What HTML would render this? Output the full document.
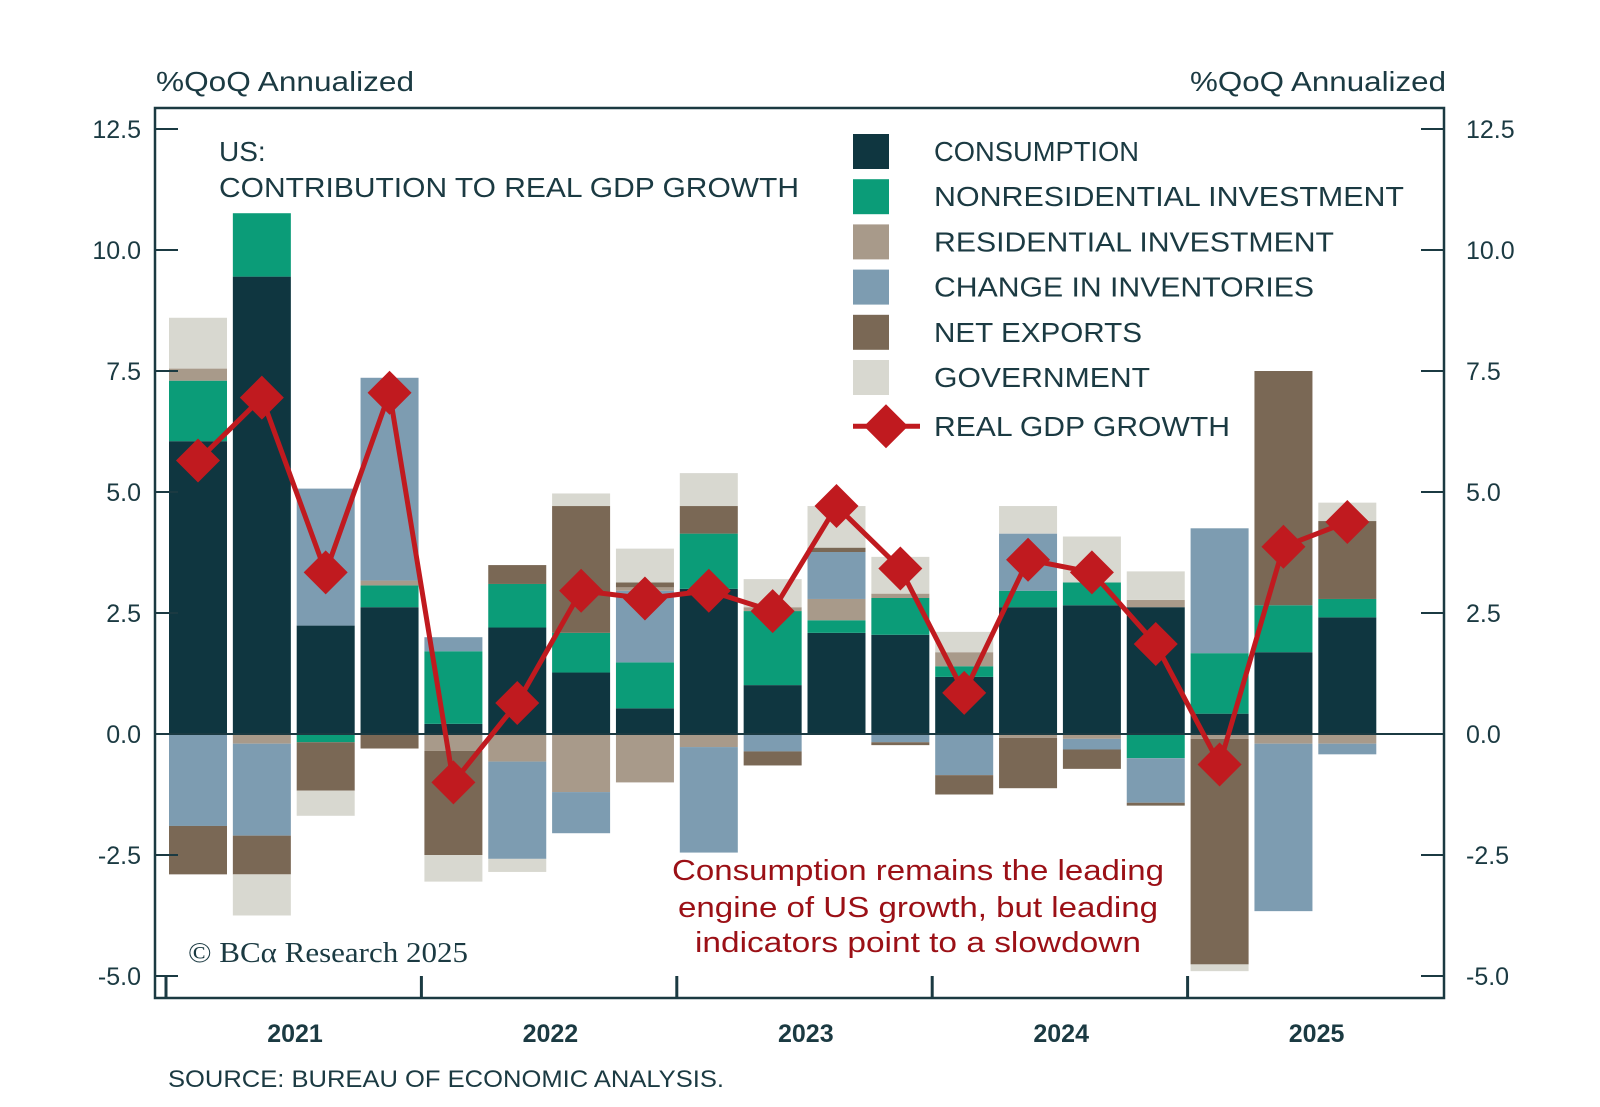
<!DOCTYPE html>
<html><head><meta charset="utf-8"><style>
html,body{margin:0;padding:0;background:#fff;}
svg{display:block;font-family:"Liberation Sans",sans-serif;}
</style></head><body>
<svg id="s" width="1600" height="1107" viewBox="0 0 1600 1107" xmlns="http://www.w3.org/2000/svg"></svg>
<script>
const C={cons:"#0f3640",non:"#0b9c78",res:"#a89a8a",inv:"#7d9cb1",nx:"#7a6855",gov:"#d8d8d0"};
const bars=[
 {p:[["cons",6.05],["non",1.25],["res",0.25],["gov",1.05]],n:[["inv",1.9],["nx",1.0]],g:5.65},
 {p:[["cons",9.45],["non",1.31]],n:[["res",0.2],["inv",1.9],["nx",0.8],["gov",0.85]],g:6.95},
 {p:[["cons",2.24],["inv",2.83]],n:[["non",0.17],["nx",1.0],["gov",0.52]],g:3.34},
 {p:[["cons",2.62],["non",0.45],["res",0.1],["inv",4.19]],n:[["nx",0.3]],g:7.05},
 {p:[["cons",0.21],["non",1.5],["inv",0.29]],n:[["res",0.35],["nx",2.15],["gov",0.55]],g:-1.0},
 {p:[["cons",2.2],["non",0.9],["nx",0.39]],n:[["res",0.57],["inv",2.01],["gov",0.27]],g:0.64},
 {p:[["cons",1.27],["non",0.82],["nx",2.62],["gov",0.26]],n:[["res",1.2],["inv",0.85]],g:2.96},
 {p:[["cons",0.53],["non",0.95],["inv",1.48],["res",0.07],["nx",0.1],["gov",0.7]],n:[["res",1.0]],g:2.8},
 {p:[["cons",3.0],["non",1.14],["nx",0.57],["gov",0.68]],n:[["res",0.27],["inv",2.18]],g:2.96},
 {p:[["cons",1.01],["non",1.53],["res",0.08],["gov",0.58]],n:[["inv",0.36],["nx",0.29]],g:2.54},
 {p:[["cons",2.09],["non",0.26],["res",0.44],["inv",0.97],["nx",0.09],["gov",0.86]],n:[],g:4.71},
 {p:[["cons",2.05],["non",0.76],["res",0.09],["gov",0.76]],n:[["inv",0.17],["nx",0.06]],g:3.42},
 {p:[["cons",1.18],["non",0.22],["res",0.29],["gov",0.42]],n:[["inv",0.85],["nx",0.4]],g:0.85},
 {p:[["cons",2.62],["non",0.34],["inv",1.18],["gov",0.57]],n:[["res",0.08],["nx",1.04]],g:3.6},
 {p:[["cons",2.66],["non",0.47],["gov",0.95]],n:[["res",0.1],["inv",0.22],["nx",0.4]],g:3.34},
 {p:[["cons",2.62],["res",0.15],["gov",0.59]],n:[["non",0.5],["inv",0.92],["nx",0.06]],g:1.86},
 {p:[["cons",0.42],["non",1.25],["inv",2.58]],n:[["res",0.1],["nx",4.66],["gov",0.14]],g:-0.63},
 {p:[["cons",1.69],["non",0.97],["nx",4.84]],n:[["res",0.2],["inv",3.46]],g:3.87},
 {p:[["cons",2.41],["non",0.38],["nx",1.61],["gov",0.38]],n:[["res",0.2],["inv",0.22]],g:4.38}
];
const Y0=734,K=48.4,X0=169,P=63.85,W=58;
const y=v=>Y0-v*K;
let h="";
const T="#1b3a42";
bars.forEach((b,i)=>{
 const x=X0+i*P;let a=0;
 b.p.forEach(([k,v])=>{h+=`<rect x="${x}" y="${y(a+v)}" width="${W}" height="${v*K}" fill="${C[k]}"/>`;a+=v;});
 a=0;
 b.n.forEach(([k,v])=>{h+=`<rect x="${x}" y="${y(-a)}" width="${W}" height="${v*K}" fill="${C[k]}"/>`;a+=v;});
});
h+=`<line x1="155" y1="${Y0}" x2="1444" y2="${Y0}" stroke="${T}" stroke-width="2"/>`;
h+=`<rect x="155" y="108" width="1289" height="890" fill="none" stroke="${T}" stroke-width="2.5"/>`;
[12.5,10,7.5,5,2.5,0,-2.5,-5].forEach(v=>{
 const yy=y(v);
 h+=`<line x1="155" y1="${yy}" x2="178" y2="${yy}" stroke="${T}" stroke-width="2"/>`;
 h+=`<line x1="1421" y1="${yy}" x2="1444" y2="${yy}" stroke="${T}" stroke-width="2"/>`;
 const s=v.toFixed(1);
 h+=`<text x="141" y="${yy+9}" text-anchor="end" font-size="25" fill="${T}">${s}</text>`;
 h+=`<text x="1466" y="${yy+9}" font-size="25" fill="${T}">${s}</text>`;
});
[0,1,2,3,4].forEach(j=>{
 const xx=166+j*255.4;
 h+=`<line x1="${xx}" y1="976" x2="${xx}" y2="998" stroke="${T}" stroke-width="3"/>`;
 h+=`<text x="${xx+129}" y="1042" text-anchor="middle" font-size="25" font-weight="bold" fill="${T}">${2021+j}</text>`;
});
let pts=bars.map((b,i)=>[X0+i*P+W/2,y(b.g)]);
h+=`<polyline points="${pts.map(p=>p.join(',')).join(' ')}" fill="none" stroke="#c01a1f" stroke-width="5" stroke-linejoin="round"/>`;
pts.forEach(([px,py])=>{h+=`<polygon points="${px},${py-22} ${px+22},${py} ${px},${py+22} ${px-22},${py}" fill="#c01a1f"/>`;});
h+=`<text x="156" y="91" font-size="28" fill="${T}" textLength="258" lengthAdjust="spacingAndGlyphs">%QoQ Annualized</text>`;
h+=`<text x="1190" y="91" font-size="28" fill="${T}" textLength="256" lengthAdjust="spacingAndGlyphs">%QoQ Annualized</text>`;
h+=`<text x="219" y="161" font-size="28" fill="${T}">US:</text>`;
h+=`<text x="219" y="197" font-size="28" fill="${T}" textLength="580" lengthAdjust="spacingAndGlyphs">CONTRIBUTION TO REAL GDP GROWTH</text>`;
const L=[["cons","CONSUMPTION",205],["non","NONRESIDENTIAL INVESTMENT",470],["res","RESIDENTIAL INVESTMENT",400],["inv","CHANGE IN INVENTORIES",380],["nx","NET EXPORTS",208],["gov","GOVERNMENT",216]];
L.forEach(([k,t,w],i)=>{
 const cy=151+i*45.2;
 h+=`<rect x="853" y="${cy-17}" width="36" height="35" fill="${C[k]}"/>`;
 h+=`<text x="934" y="${cy+10}" font-size="28" fill="${T}" textLength="${w}" lengthAdjust="spacingAndGlyphs">${t}</text>`;
});
{const cy=151+6*45.2+4;
 h+=`<line x1="853" y1="${cy}" x2="920" y2="${cy}" stroke="#c01a1f" stroke-width="5"/>`;
 h+=`<polygon points="886,${cy-22} 908,${cy} 886,${cy+22} 864,${cy}" fill="#c01a1f"/>`;
 h+=`<text x="934" y="${cy+10}" font-size="28" fill="${T}" textLength="296" lengthAdjust="spacingAndGlyphs">REAL GDP GROWTH</text>`;}
[["Consumption remains the leading",870,492],["engine of US growth, but leading",907,480],["indicators point to a slowdown",942,446]].forEach(([t,yy,w])=>{
 h+=`<text x="918" y="${yy+10}" text-anchor="middle" font-size="29" fill="#9b1016" textLength="${w}" lengthAdjust="spacingAndGlyphs">${t}</text>`;});
h+=`<text x="188" y="962" font-family="Liberation Serif,serif" font-size="28" fill="${T}" textLength="280" lengthAdjust="spacingAndGlyphs">© BCα Research 2025</text>`;
h+=`<text x="168" y="1087" font-size="24" fill="${T}" textLength="556" lengthAdjust="spacingAndGlyphs">SOURCE: BUREAU OF ECONOMIC ANALYSIS.</text>`;
document.getElementById("s").innerHTML=h;
</script>
</body></html>
